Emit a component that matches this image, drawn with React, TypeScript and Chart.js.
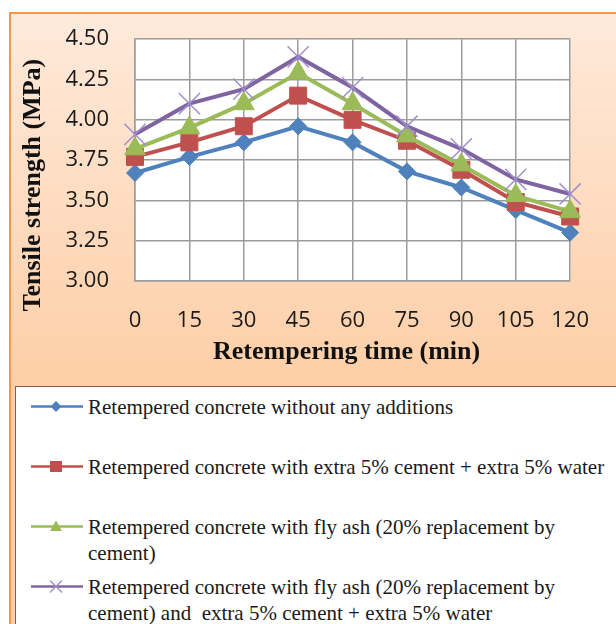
import { useEffect, useRef } from "react";
import { Chart, registerables } from "chart.js";

Chart.register(...registerables);

// Retempering time (min)
const times = ["0", "15", "30", "45", "60", "75", "90", "105", "120"];

// Tensile strength (MPa) for each mix
const plainMix = [3.67, 3.77, 3.86, 3.96, 3.86, 3.68, 3.58, 3.44, 3.3];
const extraCementMix = [3.77, 3.86, 3.96, 4.15, 4.0, 3.87, 3.69, 3.49, 3.4];
const flyAshMix = [3.82, 3.95, 4.1, 4.29, 4.1, 3.9, 3.72, 3.53, 3.43];
const flyAshExtraMix = [3.91, 4.1, 4.19, 4.39, 4.2, 3.96, 3.82, 3.63, 3.54];

const yTickValues = [3.0, 3.25, 3.5, 3.75, 4.0, 4.25, 4.5];

const xTitle = "Retempering time (min)";
const yTitle = "Tensile strength (MPa)";

// Legend text, one entry per series, split into its printed lines
const legendLines: string[][] = [
  ["Retempered concrete without any additions"],
  ["Retempered concrete with extra 5% cement + extra 5% water"],
  ["Retempered concrete with fly ash (20% replacement by", "cement)"],
  [
    "Retempered concrete with fly ash (20% replacement by",
    "cement) and  extra 5% cement + extra 5% water",
  ],
];

const BLUE = "#4F81BD";
const RED = "#C0504D";
const GREEN = "#9BBB59";
const PURPLE = "#8064A2";
const LAVENDER = "#A08FCB";
const GRID = "#9C9C9C";

const plotBackground = {
  id: "plotBackground",
  beforeDraw(chart: any) {
    const { ctx, chartArea } = chart;
    ctx.save();
    ctx.fillStyle = "#ffffff";
    ctx.fillRect(chartArea.left, chartArea.top, chartArea.width, chartArea.height);
    ctx.restore();
  },
};

const axisTitles = {
  id: "axisTitles",
  afterDraw(chart: any) {
    const { ctx, chartArea } = chart;
    ctx.save();
    ctx.fillStyle = "#111111";
    ctx.font = "bold 26px 'Liberation Serif', 'Times New Roman', serif";
    ctx.textAlign = "center";
    ctx.textBaseline = "middle";
    ctx.fillText(xTitle, (chartArea.left + chartArea.right) / 2 - 6, chartArea.bottom + 71);
    ctx.translate(33, (chartArea.top + chartArea.bottom) / 2 + 25);
    ctx.rotate(-Math.PI / 2);
    ctx.fillText(yTitle, 0, 0);
    ctx.restore();
  },
};

function LegendIcon({ index }: { index: number }) {
  const color = [BLUE, RED, GREEN, PURPLE][index];
  let marker: any = null;
  if (index === 0) marker = <polygon points="40,7 45.5,12.5 40,18 34.5,12.5" fill={BLUE} />;
  if (index === 1) marker = <rect x={34} y={7} width={12} height={11} fill={RED} />;
  if (index === 2) marker = <polygon points="40,6.5 46,17 34,17" fill={GREEN} />;
  if (index === 3)
    marker = (
      <g stroke={LAVENDER} strokeWidth={1.5}>
        <line x1={34} y1={6.5} x2={46} y2={18.5} />
        <line x1={46} y1={6.5} x2={34} y2={18.5} />
      </g>
    );
  return (
    <svg width={72} height={25} style={{ position: "absolute", left: 0, top: 0 }}>
      <line x1={15} y1={12.5} x2={67} y2={12.5} stroke={color} strokeWidth={2.5} />
      {marker}
    </svg>
  );
}

export default function App() {
  const canvasRef = useRef<HTMLCanvasElement | null>(null);

  useEffect(() => {
    if (!canvasRef.current) return;
    const tickFont = { family: "'Open Sans', 'Liberation Sans', sans-serif", size: 22 };
    const chart = new Chart(canvasRef.current, {
      type: "line",
      data: {
        labels: times,
        datasets: [
          {
            label: legendLines[0].join(" "),
            data: plainMix,
            borderColor: BLUE,
            backgroundColor: BLUE,
            borderWidth: 4,
            pointStyle: "rectRot",
            pointRadius: 8.5,
            pointBackgroundColor: BLUE,
            pointBorderColor: BLUE,
            pointBorderWidth: 1,
            order: 4,
            clip: false,
          },
          {
            label: legendLines[1].join(" "),
            data: extraCementMix,
            borderColor: RED,
            backgroundColor: RED,
            borderWidth: 4,
            pointStyle: "rect",
            pointRadius: 12,
            pointBackgroundColor: RED,
            pointBorderColor: RED,
            pointBorderWidth: 1,
            order: 3,
            clip: false,
          },
          {
            label: legendLines[2].join(" "),
            data: flyAshMix,
            borderColor: GREEN,
            backgroundColor: GREEN,
            borderWidth: 4,
            pointStyle: "triangle",
            pointRadius: 12,
            pointBackgroundColor: GREEN,
            pointBorderColor: GREEN,
            pointBorderWidth: 1,
            order: 2,
            clip: false,
          },
          {
            label: legendLines[3].join(" "),
            data: flyAshExtraMix,
            borderColor: PURPLE,
            backgroundColor: PURPLE,
            borderWidth: 4,
            pointStyle: "crossRot",
            pointRadius: 15,
            pointBackgroundColor: LAVENDER,
            pointBorderColor: LAVENDER,
            pointBorderWidth: 1.5,
            order: 1,
            clip: false,
          },
        ],
      },
      options: {
        responsive: false,
        animation: false,
        layout: { padding: { left: 0, top: 38, right: 38, bottom: 0 } },
        plugins: { legend: { display: false }, tooltip: { enabled: false } },
        elements: { line: { tension: 0 } },
        scales: {
          x: {
            type: "category",
            grid: { color: GRID, lineWidth: 1.5, drawTicks: false },
            border: { display: true, color: GRID, width: 1.5 },
            ticks: {
              font: tickFont,
              color: "#1a1a1a",
              padding: 27,
              maxRotation: 0,
              autoSkip: false,
            },
            afterFit(scale: any) {
              scale.height = 105;
            },
          },
          y: {
            min: 3,
            max: 4.5,
            grid: { color: GRID, lineWidth: 1.5, drawTicks: false },
            border: { display: true, color: GRID, width: 1.5 },
            ticks: {
              font: tickFont,
              color: "#1a1a1a",
              padding: 26,
              callback: (v: any) => Number(v).toFixed(2),
            },
            afterBuildTicks(scale: any) {
              scale.ticks = yTickValues.map((value) => ({ value }));
            },
            afterFit(scale: any) {
              scale.width = 135;
            },
          },
        },
      },
      plugins: [plotBackground, axisTitles],
    } as any);
    return () => chart.destroy();
  }, []);

  const rowCenters = [20, 80, 140, 200];

  return (
    <div
      style={{
        position: "fixed",
        left: 0,
        top: 0,
        width: 616,
        height: 624,
        overflow: "hidden",
        background: "#ffffff",
      }}
    >
      <div
        style={{
          position: "absolute",
          left: 9,
          top: 12,
          width: 640,
          height: 640,
          boxSizing: "border-box",
          border: "2.5px solid #F79646",
          background: "linear-gradient(180deg, #FFEADB 0px, #FDCEA6 374px, #FDCEA6 640px)",
        }}
      />
      <canvas
        ref={canvasRef}
        width={616}
        height={386}
        style={{ position: "absolute", left: 0, top: 0, display: "block" }}
      />
      <div
        style={{
          position: "absolute",
          left: 15,
          top: 386,
          width: 640,
          height: 300,
          boxSizing: "border-box",
          border: "1.5px solid #8C5A50",
          background: "#ffffff",
          fontFamily: "'Liberation Serif', 'Times New Roman', serif",
          fontSize: 21,
          color: "#1a1a1a",
        }}
      >
        {legendLines.map((lines, i) => (
          <div
            key={i}
            style={{ position: "absolute", left: 0, top: rowCenters[i] - 13, width: 620 }}
          >
            <LegendIcon index={i} />
            {lines.map((t, j) => (
              <div
                key={j}
                style={{
                  position: "absolute",
                  left: 72,
                  top: j * 26,
                  height: 26,
                  lineHeight: "26px",
                  whiteSpace: "pre",
                }}
              >
                {t}
              </div>
            ))}
          </div>
        ))}
      </div>
    </div>
  );
}
